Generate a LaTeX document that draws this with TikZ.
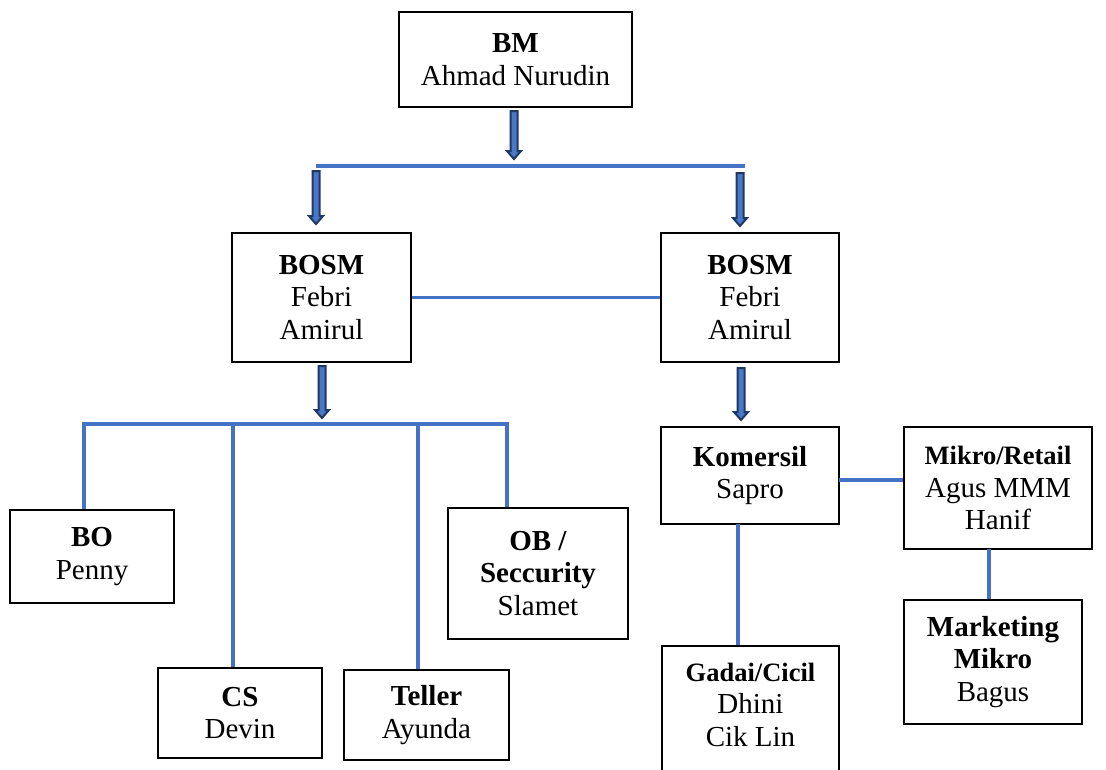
\documentclass[tikz,border=0pt]{standalone}
\usepackage{fontspec}
\setmainfont{Liberation Serif}
\usetikzlibrary{calc}
\definecolor{lineblue}{HTML}{4472C4}
\definecolor{navy}{HTML}{1F3864}
\definecolor{arrowfill}{HTML}{4A78C8}
\tikzset{
  box/.style={draw=black, line width=1.3pt, fill=white, inner sep=0pt, align=center,
    font=\fontsize{29}{32.5}\selectfont},
  txt/.style={inner sep=0pt, align=center, font=\fontsize{29}{32.5}\selectfont},
  bl/.style={draw=lineblue, line width=3.6pt},
  barrow/.style={draw=navy, fill=arrowfill, line width=2pt, line join=miter},
}
\newcommand\blockarrow[2]{%
  \draw[barrow] ($(#1)+(-3.5,0)$) -- ($(#1)+(3.5,0)$) -- ($(#2)+(3.5,-8)$) -- ($(#2)+(7,-8)$)
   -- (#2) -- ($(#2)+(-7,-8)$) -- ($(#2)+(-3.5,-8)$) -- cycle;}
\begin{document}
\begin{tikzpicture}[x=1pt,y=-1pt]
\useasboundingbox[fill=white] (0,0) rectangle (1106,769);

% boxes
\node[box, minimum width=233, minimum height=95] (bm) at (515.5,59.5) {\textbf{BM}\\Ahmad Nurudin};
\node[box, minimum width=179, minimum height=129] (bosmL) at (321.5,297.5) {\textbf{BOSM}\\Febri\\Amirul};
\node[box, minimum width=178, minimum height=129] (bosmR) at (750,297.5) {\textbf{BOSM}\\Febri\\Amirul};
\node[box, minimum width=164, minimum height=93] (bo) at (92,556.5) {\textbf{BO}\\Penny};
\node[box, minimum width=164, minimum height=90] (cs) at (240,713) {\textbf{CS}\\Devin};
\node[box, minimum width=165, minimum height=90] (teller) at (426.5,715) {\textbf{Teller}\\Ayunda};
\node[box, minimum width=180, minimum height=131] (ob) at (538,573.5) {\textbf{OB /}\\\textbf{Seccurity}\\Slamet};
\node[box, minimum width=178, minimum height=97] (kom) at (750,475.5) {\textbf{Komersil}\\Sapro};
\node[box, minimum width=188, minimum height=122] (mikro) at (998,488)
  {{\fontsize{26.5}{30}\selectfont\bfseries Mikro/Retail}\\Agus MMM\\Hanif};
\node[box, minimum width=178, minimum height=124] (mkt) at (993,662) {\textbf{Marketing}\\\textbf{Mikro}\\Bagus};
\node[box, minimum width=177, minimum height=134] (gadai) at (750.5,713) {};
\node[txt] (gadaitxt) at (750.5,704.5) {{\fontsize{26.5}{30}\selectfont\bfseries Gadai/Cicil}\\Dhini\\Cik Lin};

% coordinates
\coordinate (a1s) at (514,111);
\coordinate (a1e) at (514,159);
\coordinate (topL) at (316,166);
\coordinate (topR) at (745,166);
\coordinate (a2s) at (316,171);
\coordinate (a2e) at (316,224);
\coordinate (a3s) at (740,173);
\coordinate (a3e) at (740,226);
\coordinate (a4s) at (322,366);
\coordinate (a4e) at (322,418);
\coordinate (a5s) at (741,368);
\coordinate (a5e) at (741,420);
\coordinate (tbo) at (84,424);
\coordinate (tcs) at (233,424);
\coordinate (tte) at (418,424);
\coordinate (tob) at (507,424);
\coordinate (km) at (839,480);
\coordinate (kg) at (738,524);
\coordinate (mm) at (989,549);

% blue connectors
\draw[bl] (topL) -- (topR);
\draw[bl] (bosmL.east) -- (bosmR.west);
\draw[bl] (tbo |- bo.north) -- (tbo) -- (tob) -- (tob |- ob.north);
\draw[bl] (tcs) -- (tcs |- cs.north);
\draw[bl] (tte) -- (tte |- teller.north);
\draw[bl] (km) -- (km -| mikro.west);
\draw[bl] (kg) -- (kg |- gadai.north);
\draw[bl] (mm) -- (mm |- mkt.north);

% block arrows
\blockarrow{a1s}{a1e}
\blockarrow{a2s}{a2e}
\blockarrow{a3s}{a3e}
\blockarrow{a4s}{a4e}
\blockarrow{a5s}{a5e}
\end{tikzpicture}
\end{document}
